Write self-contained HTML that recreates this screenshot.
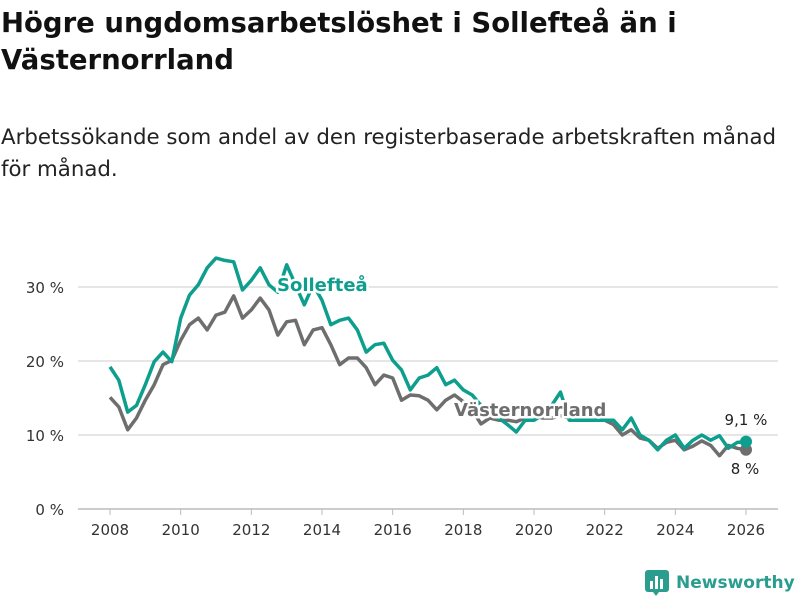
<!DOCTYPE html>
<html><head><meta charset="utf-8"><style>
body{margin:0;width:800px;height:600px;background:#fff;font-family:"DejaVu Sans","Liberation Sans",sans-serif;color:#111;overflow:hidden;position:relative}
h1{position:absolute;left:1px;top:5px;margin:0;font-size:27.5px;line-height:37px;font-weight:bold;width:800px;white-space:nowrap}
.sub{position:absolute;left:1px;top:122px;margin:0;font-size:21.3px;line-height:32px;color:#222;width:800px;white-space:nowrap}
svg{position:absolute;left:0;top:0}
</style></head><body>
<h1>Högre ungdomsarbetslöshet i Sollefteå än i<br>Västernorrland</h1>
<p class="sub">Arbetssökande som andel av den registerbaserade arbetskraften månad<br>för månad.</p>
<svg id="chart" width="800" height="600"></svg>
<script>
const years=[2008,2010,2012,2014,2016,2018,2020,2022,2024,2026];
const yTicks=[0,10,20,30];
const startYear=2008, step=0.25;
const solleftea=[19.2,17.4,13.1,14,16.8,19.9,21.2,19.9,25.8,28.9,30.3,32.6,33.9,33.6,33.4,29.6,30.9,32.6,30.3,29.3,33,30.3,27.6,30.3,28.2,24.9,25.5,25.8,24.2,21.2,22.2,22.4,20.1,18.8,16.1,17.7,18.1,19.1,16.8,17.4,16.1,15.4,14,12.7,12.3,11.4,10.4,12,12,12.7,14,15.8,12,12,12,12,12,12,10.7,12.3,10,9.3,8,9.3,10,8.2,9.3,10,9.3,9.9,8.2,9,9.1];
const vasternorrland=[15.1,13.8,10.7,12.3,14.7,16.8,19.5,20.1,22.8,24.9,25.8,24.2,26.2,26.6,28.8,25.8,26.9,28.5,26.9,23.5,25.3,25.5,22.2,24.2,24.5,22.2,19.5,20.4,20.4,19.1,16.8,18.1,17.7,14.7,15.4,15.3,14.7,13.4,14.7,15.4,14.5,13.4,11.5,12.3,12,12,11.8,12.3,12.6,12.3,12.3,12.6,12.3,12.3,12.3,12,12,11.4,10,10.7,9.6,9.3,8.2,9,9.3,8,8.5,9.2,8.6,7.2,8.6,8.2,8.0];
const x=t=>110+(t-2008)*(636/18);
const y=v=>509-v*7.4;
const svg=document.getElementById('chart');
const NS='http://www.w3.org/2000/svg';
function mk(tag,attrs){const e=document.createElementNS(NS,tag);for(const k in attrs)e.setAttribute(k,attrs[k]);svg.appendChild(e);return e;}
yTicks.forEach(v=>{
  const l=mk('line',{x1:78,x2:778,y1:y(v),y2:y(v),stroke:v===0?'#bbb':'#ddd','stroke-width':1.5});
  
  
  const t=mk('text',{x:64,y:y(v)+6,'text-anchor':'end','font-size':15,fill:'#333'});
  t.textContent=v+' %';
  
  
});
years.forEach(yr=>{
  const tk=mk('line',{x1:x(yr),x2:x(yr),y1:509,y2:515,stroke:'#bbb','stroke-width':1});
  
  
  const t=mk('text',{x:x(yr),y:535,'text-anchor':'middle','font-size':15,fill:'#333'});
  t.textContent=yr;
  
  
});
function path(arr){return arr.map((v,i)=>(i?'L':'M')+x(startYear+i*step).toFixed(1)+','+y(v).toFixed(1)).join(' ');}
const gp=mk('path',{d:path(vasternorrland),fill:'none',stroke:'#6e6e6e','stroke-width':3.5,'stroke-linejoin':'round'});


const tp=mk('path',{d:path(solleftea),fill:'none',stroke:'#0e9e8e','stroke-width':3.5,'stroke-linejoin':'round'});


const gl=vasternorrland.length-1, tl=solleftea.length-1;
const gd=mk('circle',{cx:x(startYear+gl*step),cy:y(vasternorrland[gl]),r:6,fill:'#6e6e6e'});


const td=mk('circle',{cx:x(startYear+tl*step),cy:y(solleftea[tl]),r:6,fill:'#0e9e8e'});


const l1=mk('text',{x:277,y:291,'font-size':18,'font-weight':'bold',fill:'#0e9e8e',stroke:'#fff','stroke-width':5,'paint-order':'stroke'});
l1.textContent='Sollefteå';


const l2=mk('text',{x:454,y:416,'font-size':18,'font-weight':'bold',fill:'#6e6e6e',stroke:'#fff','stroke-width':5,'paint-order':'stroke'});
l2.textContent='Västernorrland';


const v1=mk('text',{x:746,y:425,'text-anchor':'middle','font-size':15,fill:'#222'});
v1.textContent=String(solleftea[tl]).replace('.',',')+' %';


const v2=mk('text',{x:745,y:474,'text-anchor':'middle','font-size':15,fill:'#222'});
v2.textContent=String(vasternorrland[gl]).replace('.',',')+' %';


</script>
<div style="position:absolute;left:645px;top:570px;display:flex;align-items:center">
<svg width="24" height="26" style="position:static"><rect x="0" y="0" width="24" height="22" rx="3" fill="#2a9d8f"/><rect x="5" y="11" width="3" height="8" fill="#fff"/><rect x="10" y="6" width="3" height="13" fill="#fff"/><rect x="15" y="9" width="3" height="10" fill="#fff"/><polygon points="8,22 14,22 11,26" fill="#2a9d8f"/></svg>
<span style="font-size:17px;font-weight:bold;color:#2a9d8f;margin-left:7px">Newsworthy</span></div>
</body></html>
